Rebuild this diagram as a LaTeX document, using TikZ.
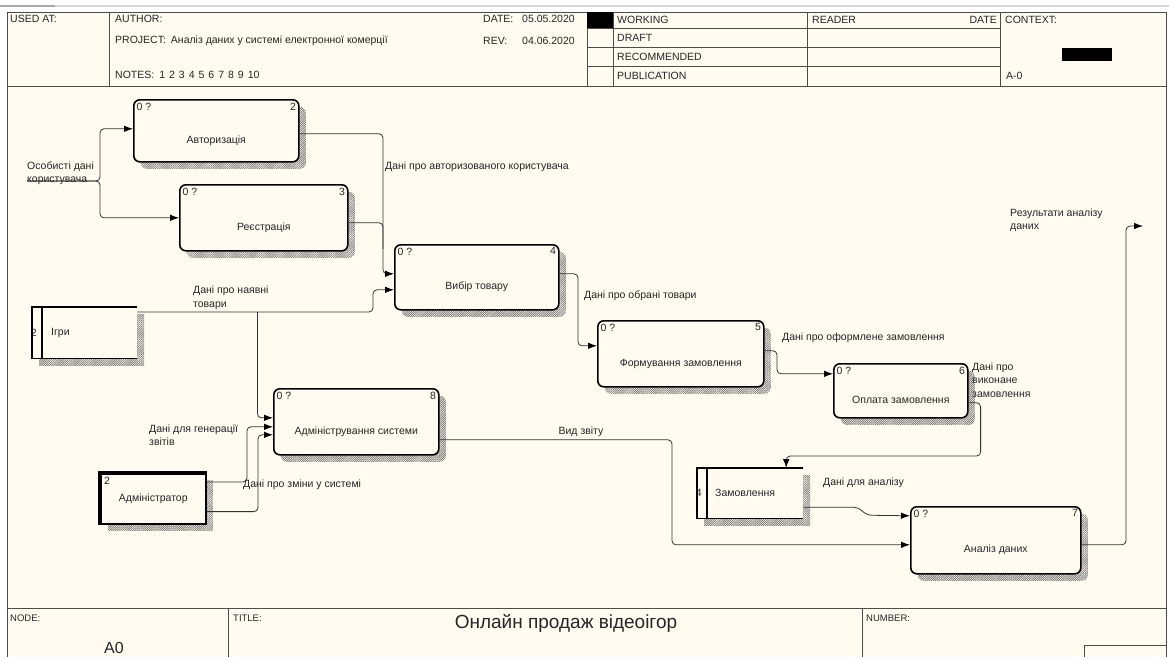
\documentclass[tikz,border=0pt]{standalone}
\usepackage{fontspec}
\setmainfont{Liberation Sans}
\usetikzlibrary{arrows.meta,calc,patterns.meta,shadows}
\definecolor{cream}{RGB}{255,251,240}
\newcommand{\lbl}{\fontsize{10.5}{13.5}\selectfont}
\newcommand{\tinyhdr}{\fontsize{9.5}{11}\selectfont}

\begin{document}
\begin{tikzpicture}[x=1pt,y=-1pt,
  every node/.style={text=black!85, inner sep=0pt},
  frame/.style={draw=black!70, line width=1pt},
  boxshade/.style={general shadow={shadow xshift=7pt, shadow yshift=-7pt,
      pattern={Lines[angle=45,distance=1.5pt,line width=0.7pt]}, pattern color=black!55}},
  act/.style={draw, line width=1.6pt, rounded corners=6pt, fill=cream, anchor=north west,
      font=\lbl, text height=25pt, text depth=0pt, boxshade},
  corner/.style={font=\lbl, inner sep=3.5pt},
  store/.style={fill=cream, anchor=north west, boxshade},
  flow/.style={draw=black!80, line width=0.8pt, rounded corners=4pt,
      -{Latex[length=9pt,width=6.5pt,fill=black,color=black]}},
  line/.style={draw=black!80, line width=0.8pt, rounded corners=4pt},
  txt/.style={font=\lbl, anchor=west, align=left},
  hdr/.style={font=\lbl, anchor=west}
]
\useasboundingbox (0,0) rectangle (1169,657);
\fill[white] (0,0) rectangle (1169,657);
\fill[cream] (7,12) rectangle (1166,657);
\draw[gray!30, line width=1.5pt] (0,6) -- (1169,6);
\draw[gray!70, line width=1.5pt] (0,6) -- (55,6);

% frame and header
\draw[frame] (7,657) -- (7,12) -- (1166,12) -- (1166,657);
\draw[frame] (7,86) -- (1166,86);
\draw[frame] (7,608) -- (1166,608);
\foreach \c in {109,587,613,807,1000}
  \draw[frame] (\c,12) -- (\c,86);
\foreach \r in {28,47,66}
  \draw[frame] (587,\r) -- (1000,\r);
\fill (587,12) rectangle (613,28);
\fill (1062,48) rectangle (1112,61);
\draw[frame] (228,608) -- (228,657);
\draw[frame] (862,608) -- (862,657);
\draw[frame] (1084,657) -- (1084,645) -- (1166,645);

\node[hdr] (usedat) at (10,19) {USED AT:};
\node[hdr] (author) at (115,19) {AUTHOR:};
\node[hdr] (project) at (115,41) {PROJECT:\hspace{5pt}Аналіз даних у системі електронної комерції};
\node[hdr] (notes) at (115,75) {NOTES:\hspace{5pt}1\hspace{4pt}2\hspace{4pt}3\hspace{4pt}4\hspace{4pt}5\hspace{4pt}6\hspace{4pt}7\hspace{4pt}8\hspace{4pt}9\hspace{4pt}10};
\node[hdr] (date) at (483,19) {DATE:};
\node[hdr] (dateval) at (522,19) {05.05.2020};
\node[hdr] (rev) at (483,41) {REV:};
\node[hdr] (revval) at (522,41) {04.06.2020};
\node[hdr] (working) at (617,20) {WORKING};
\node[hdr] (draft) at (617,38) {DRAFT};
\node[hdr] (recom) at (617,57) {RECOMMENDED};
\node[hdr] (public) at (617,76) {PUBLICATION};
\node[hdr] (reader) at (812,20) {READER};
\node[hdr, anchor=east] (rdate) at (997,20) {DATE};
\node[hdr] (context) at (1005,20) {CONTEXT:};
\node[hdr] (ctxnode) at (1006,76) {A-0};

% title block
\node[font=\tinyhdr, anchor=west] (nodelbl) at (10,618) {NODE:};
\node[font=\fontsize{16}{18}\selectfont] (nodeval) at (114,648) {A0};
\node[font=\tinyhdr, anchor=west] (titlelbl) at (233,618) {TITLE:};
\node[font=\fontsize{19}{22}\selectfont] (title) at (566,623) {Онлайн продаж відеоігор};
\node[font=\tinyhdr, anchor=west] (numlbl) at (866,618) {NUMBER:};

% activities
\node[act, minimum width=165pt, minimum height=62pt,
  label={[corner, anchor=north west]north west:0 ?},
  label={[corner, anchor=north east]north east:2}] (auth) at (133,99) {Авторизація};
\node[act, minimum width=168pt, minimum height=66pt,
  label={[corner, anchor=north west]north west:0 ?},
  label={[corner, anchor=north east]north east:3}] (reg) at (179,184) {Реєстрація};
\node[act, minimum width=164pt, minimum height=65pt,
  label={[corner, anchor=north west]north west:0 ?},
  label={[corner, anchor=north east]north east:4}] (vybir) at (394,244) {Вибір товару};
\node[act, minimum width=166pt, minimum height=66pt,
  label={[corner, anchor=north west]north west:0 ?},
  label={[corner, anchor=north east]north east:5}] (form) at (597,320) {Формування замовлення};
\node[act, minimum width=134pt, minimum height=54pt,
  label={[corner, anchor=north west]north west:0 ?},
  label={[corner, anchor=north east]north east:6}] (opl) at (833,363) {Оплата замовлення};
\node[act, minimum width=165pt, minimum height=66pt,
  label={[corner, anchor=north west]north west:0 ?},
  label={[corner, anchor=north east]north east:8}] (admin) at (273,388) {Адміністрування системи};
\node[act, minimum width=170pt, minimum height=67pt,
  label={[corner, anchor=north west]north west:0 ?},
  label={[corner, anchor=north east]north east:7}] (anal) at (910,506) {Аналіз даних};

% data stores
\node[store, minimum width=105pt, minimum height=51pt,
  label={[font=\lbl, xshift=5pt]west:2},
  label={[font=\lbl, anchor=west, xshift=19pt]west:Ігри}] (igry) at (32,307) {};
\draw[line width=1.6pt] (igry.north east) -- (igry.north west) -- (igry.south west) -- (igry.south east);
\draw[line width=1.6pt] ([xshift=10pt]igry.north west) -- ([xshift=10pt]igry.south west);
\node[store, minimum width=106pt, minimum height=50pt,
  label={[font=\lbl, xshift=5pt]west:4},
  label={[font=\lbl, anchor=west, xshift=18pt]west:Замовлення}] (zam) at (697,468) {};
\draw[line width=1.6pt] (zam.north east) -- (zam.north west) -- (zam.south west) -- (zam.south east);
\draw[line width=1.6pt] ([xshift=10pt]zam.north west) -- ([xshift=10pt]zam.south west);

% external entity
\node[draw, line width=1.6pt, fill=cream, anchor=north west, minimum width=105pt, minimum height=50pt,
  font=\lbl, boxshade,
  label={[font=\lbl, anchor=north west, inner sep=4pt]north west:2}] (adm) at (100,473) {Адміністратор};
\draw[line width=3.5pt] (adm.south west) -- (adm.north west) -- (adm.north east);

% connectors
\coordinate (in1) at (27,181);
\coordinate (out1) at (1143,226);
\coordinate (igsplit) at ($(igry.north east)+(120,5)$);
\draw[flow] (in1) -| ($([yshift=2pt]auth.west)+(-33,0)$) -- ([yshift=2pt]auth.west);
\draw[flow] (in1) -| ($(reg.west)+(-79,0)$) -- (reg.west);
\draw[flow] ([yshift=-3pt]auth.east) -| ($([yshift=3.5pt]vybir.west)+(-11,0)$) -- ([yshift=3.5pt]vybir.west);
\draw[line] ([yshift=-5pt]reg.east) -| ($([yshift=3.5pt]vybir.west)+(-11,-25)$);
\draw[flow] ([yshift=-5pt]igry.north east) -| ($([yshift=-12.5pt]vybir.west)+(-21,0)$) -- ([yshift=-12.5pt]vybir.west);
\draw[flow] (igsplit) |- ([yshift=4pt]admin.west);
\draw[flow] ([yshift=-9pt]adm.north east) -| ($([yshift=-5pt]admin.west)+(-26,0)$) -- ([yshift=-5pt]admin.west);
\draw[flow] ([yshift=13pt]adm.south east) -| ($([yshift=-13pt]admin.west)+(-15,0)$) -- ([yshift=-13pt]admin.west);
\draw[flow] ([yshift=-18pt]admin.east) -| ($([yshift=-4.5pt]anal.west)+(-238,0)$) -- ([yshift=-4.5pt]anal.west);
\draw[flow] ([yshift=3.5pt]vybir.east) -| ($([yshift=8pt]form.west)+(-19,0)$) -- ([yshift=8pt]form.west);
\draw[flow] ([yshift=3pt]form.east) -| ($([yshift=17pt]opl.west)+(-56,0)$) -- ([yshift=17pt]opl.west);
\draw[flow] ([yshift=-12pt]opl.east) -- ++(12,0) |- ($([xshift=36pt]zam.north)+(0,-12)$) -- ([xshift=36pt]zam.north);
\draw[flow] ([yshift=-14pt]zam.east) -- ++(54,0) -- ++(10,8) -- ([yshift=24.5pt]anal.west);
\draw[flow] ([yshift=-4.5pt]anal.east) -| ($(out1)+(-17,0)$) -- (out1);

% arrow labels
\node[txt] (l1) at (27,173) {Особисті дані\\користувача};
\node[txt] (l2) at (385,167) {Дані про авторизованого користувача};
\node[txt] (l3) at (193,298) {Дані про наявні\\товари};
\node[txt] (l4) at (584,296) {Дані про обрані товари};
\node[txt] (l5) at (782,338) {Дані про оформлене замовлення};
\node[txt] (l6) at (972,380) {Дані про\\виконане\\замовлення};
\node[font=\lbl] (l7) at (581,432) {Вид звіту};
\node[txt] (l8) at (149,435) {Дані для генерації\\звітів};
\node[txt] (l9) at (243,485) {Дані про зміни у системі};
\node[txt] (l10) at (823,483) {Дані для аналізу};
\node[txt] (l11) at (1010,220) {Результати аналізу\\даних};
\end{tikzpicture}
\end{document}
